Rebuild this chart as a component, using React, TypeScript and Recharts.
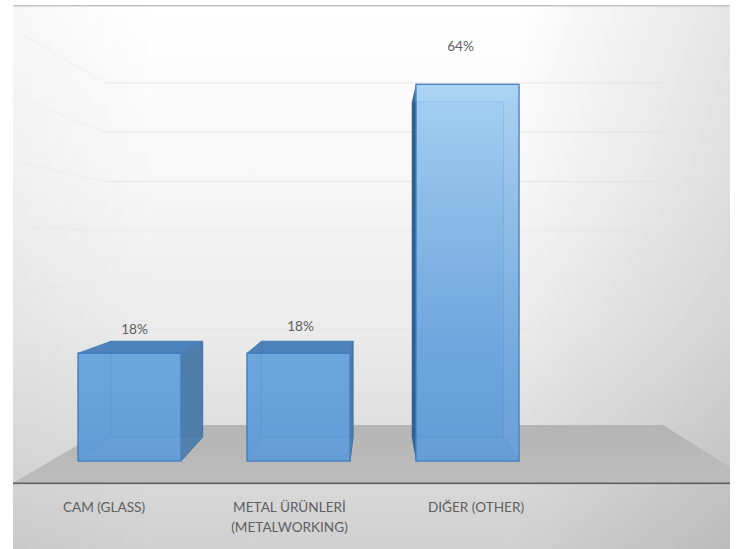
import type { ReactElement } from "react";
import { Bar, BarChart, Customized, LabelList, XAxis, YAxis } from "recharts";

const categories = ["CAM (GLASS)", "METAL ÜRÜNLERİ\n(METALWORKING)", "DIĞER (OTHER)"];
const shares = [18.3, 18.3, 64];
const wallTicks = [10, 20, 30, 40, 50, 60, 70];

const tickShift = [-25.5, -9, 8.5];
const labelShift = [
  { dx: 5, dy: -19 },
  { dx: 2, dy: -22 },
  { dx: -7, dy: -33 }
];

const WIDTH = 736;
const HEIGHT = 549;
const FONT = "Lato, 'Open Sans', sans-serif";
const TEXT = "#5f5f5f";

// vanishing point and depth of the fake 3D box
const VX = 378;
const VY = 244;
const DEPTH = 0.89;
const backX = (x: number): number => VX + (x - VX) * DEPTH;
const backY = (y: number): number => VY + (y - VY) * DEPTH;
const pts = (list: number[][]): string => list.map((p) => p.join(",")).join(" ");

const wallY = (tick: number): number => 428 - tick * 4.93;

function Room(): ReactElement {
  return (
    <g>
      <rect x={13} y={5} width={717} height={544} fill="url(#wall)" />
      <rect x={13} y={5} width={717} height={544} fill="url(#wallSides)" />
      <rect x={13} y={5} width={717} height={1.5} fill="#c4c4c4" />
      {wallTicks.map((tick) => {
        const y = wallY(tick);
        const endRight = tick >= 50 ? 663 : 653;
        const outer = 1.32;
        return (
          <g key={tick} stroke="#dedede" strokeOpacity={tick >= 50 ? 0.7 : 0.4} fill="none">
            <line x1={105} y1={y} x2={endRight} y2={y} />
            <line x1={105} y1={y} x2={VX + (105 - VX) * outer} y2={VY + (y - VY) * outer} strokeOpacity={0.35} />
          </g>
        );
      })}
      <polygon points={pts([[112, 425], [663, 425], [730, 467], [730, 483], [13, 483]])} fill="url(#floor)" />
      <rect x={13} y={482.5} width={717} height={1.6} fill="#5e5e5e" />
    </g>
  );
}

type BoxProps = { x?: number; y?: number; width?: number; height?: number };

function Box({ x = 0, y = 0, width = 0, height = 0 }: BoxProps): ReactElement {
  const right = x + width;
  const bottom = y + height;
  const bx = backX(x);
  const bRight = backX(right);
  const by = backY(y);
  const bBottom = backY(bottom);
  const topVisible = by < y;
  return (
    <g>
      {bx < x && <polygon points={pts([[x, y], [bx, by], [bx, bBottom], [x, bottom]])} fill="#2f618f" />}
      {bRight > right && <polygon points={pts([[right, y], [bRight, by], [bRight, bBottom], [right, bottom]])} fill="#4e7da9" stroke="#44749f" />}
      {topVisible && <polygon points={pts([[x, y], [bx, by], [bRight, by], [right, y]])} fill="#4d83ba" stroke="#4a80b6" />}
      <rect x={x} y={y} width={width} height={height} fill="url(#front)" stroke="#3f7fc0" strokeWidth={1.4} />
      {!topVisible && <polygon points={pts([[x, y], [bx, by], [bRight, by], [right, y]])} fill="#ffffff" fillOpacity={0.09} />}
      {bRight < right && <polygon points={pts([[right, y], [bRight, by], [bRight, bBottom], [right, bottom]])} fill="#ffffff" fillOpacity={0.06} />}
      <polygon points={pts([[x, bottom], [bx, bBottom], [bRight, bBottom], [right, bottom]])} fill="#ffffff" fillOpacity={0.03} />
      <rect x={bx} y={by} width={bRight - bx} height={bBottom - by} fill="none" stroke="#3f78b5" strokeOpacity={0.16} />
      <line x1={right} y1={bottom} x2={bRight} y2={bBottom} stroke="#3f78b5" strokeOpacity={0.18} />
      {bx > x && <line x1={x} y1={bottom} x2={bx} y2={bBottom} stroke="#3f78b5" strokeOpacity={0.1} />}
    </g>
  );
}

type TickProps = { x?: number; y?: number; index?: number; payload?: { value: string } };

function CategoryTick({ x = 0, index = 0, payload }: TickProps): ReactElement {
  const lines = (payload?.value ?? "").split("\n");
  return (
    <text x={x + tickShift[index]} textAnchor="middle" fontFamily={FONT} fontSize={13.6} fill={TEXT}>
      {lines.map((line, i) => (
        <tspan key={line} x={x + tickShift[index]} y={512 + i * 19.5}>
          {line}
        </tspan>
      ))}
    </text>
  );
}

type LabelProps = { x?: number; y?: number; width?: number; value?: number; index?: number };

function ShareLabel({ x = 0, y = 0, width = 0, value = 0, index = 0 }: LabelProps): ReactElement {
  const shift = labelShift[index];
  return (
    <text x={x + width / 2 + shift.dx} y={y + shift.dy} textAnchor="middle" fontFamily={FONT} fontSize={13.6} fill={TEXT}>
      {Math.round(value)}%
    </text>
  );
}

export default function App(): ReactElement {
  const data = categories.map((name, i) => ({ name, share: shares[i] }));

  return (
    <div style={{ position: "absolute", left: 0, top: 0, width: WIDTH, height: HEIGHT }}>
      <BarChart width={WIDTH} height={HEIGHT} data={data} margin={{ top: 49, right: 184, bottom: 0, left: 45 }}>
        <defs>
          <linearGradient id="wall" gradientUnits="userSpaceOnUse" x1={0} y1={5} x2={0} y2={549}>
            <stop offset="0" stopColor="#ffffff" />
            <stop offset="0.3" stopColor="#f8f8f8" />
            <stop offset="0.6" stopColor="#ebebeb" />
            <stop offset="1" stopColor="#d0d0d0" />
          </linearGradient>
          <linearGradient id="wallSides" gradientUnits="userSpaceOnUse" x1={13} y1={0} x2={730} y2={0}>
            <stop offset="0" stopColor="#000000" stopOpacity={0.03} />
            <stop offset="0.2" stopColor="#000000" stopOpacity={0} />
            <stop offset="0.7" stopColor="#000000" stopOpacity={0} />
            <stop offset="1" stopColor="#000000" stopOpacity={0.1} />
          </linearGradient>
          <linearGradient id="floor" gradientUnits="userSpaceOnUse" x1={0} y1={425} x2={0} y2={483}>
            <stop offset="0" stopColor="#b5b5b5" />
            <stop offset="1" stopColor="#bcbcbc" />
          </linearGradient>
          <linearGradient id="front" gradientUnits="userSpaceOnUse" x1={0} y1={84} x2={0} y2={461}>
            <stop offset="0" stopColor="#a4d1f3" />
            <stop offset="0.3" stopColor="#8dbce8" />
            <stop offset="0.7" stopColor="#6ea6dd" />
            <stop offset="1" stopColor="#629ad6" />
          </linearGradient>
        </defs>
        <Customized component={Room} />
        <XAxis dataKey="name" axisLine={false} tickLine={false} interval={0} height={88} tick={<CategoryTick />} />
        <YAxis hide domain={[0, 70]} />
        <Bar dataKey="share" barSize={103} shape={<Box />} isAnimationActive={false}>
          <LabelList dataKey="share" content={<ShareLabel />} />
        </Bar>
      </BarChart>
    </div>
  );
}
